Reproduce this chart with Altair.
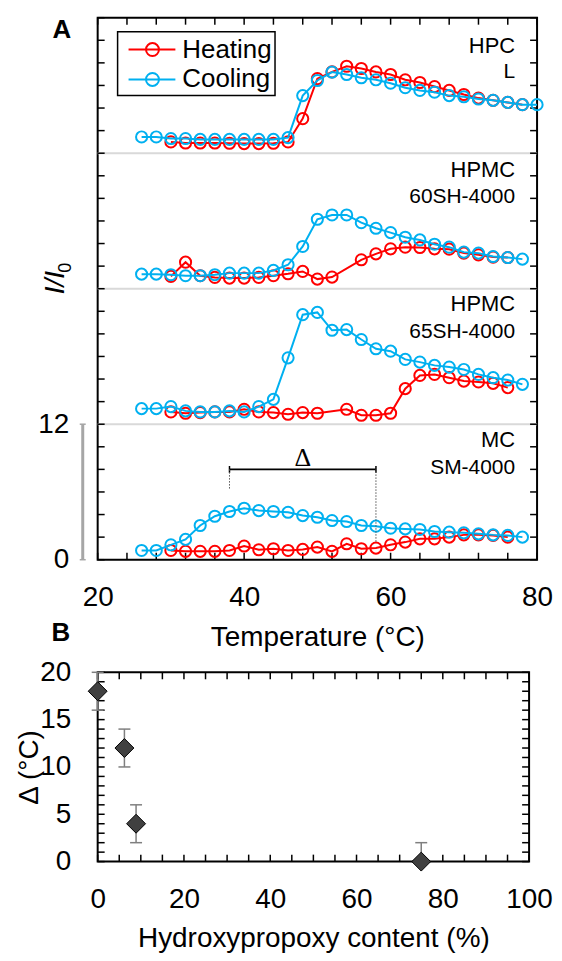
import altair as alt
import pandas as pd

FONT = "Liberation Sans"
RED = "#ff0000"
BLUE = "#00b0f0"

# ---------------- Panel A data ----------------
samples = ["MC SM-4000", "HPMC 65SH-4000", "HPMC 60SH-4000", "HPC L"]
offsets = [0, 12, 24, 36]

cool_T_long = [26, 28, 30, 32, 34, 36, 38, 40, 42, 44, 46, 48, 50, 52, 54, 56, 58, 60, 62, 64, 66, 68, 70, 72, 74, 76, 78, 80]
cool_T = [26, 28, 30, 32, 34, 36, 38, 40, 42, 44, 46, 48, 50, 52, 54, 56, 58, 60, 62, 64, 66, 68, 70, 72, 74, 76, 78]

hpc_cool = [1.44, 1.44, 1.3, 1.3, 1.22, 1.22, 1.22, 1.22, 1.22, 1.22, 1.38, 5.1, 6.44, 7.18, 6.97, 6.68, 6.5, 6.2, 5.8, 5.56, 5.4, 5.1, 5.0, 4.8, 4.68, 4.5, 4.3, 4.3]
hpc_heat_T = [30, 32, 34, 36, 38, 40, 42, 44, 46, 48, 50, 52, 54, 56, 58, 60, 62, 64, 66, 68, 70, 72, 74, 76, 78]
hpc_heat = [1.0, 0.9, 0.9, 0.9, 0.88, 0.85, 0.85, 0.88, 1.0, 3.06, 6.6, 7.2, 7.7, 7.5, 7.2, 6.97, 6.5, 6.26, 5.9, 5.56, 5.2, 4.88, 4.68, 4.5, 4.3]

h60_cool = [1.29, 1.29, 1.24, 1.15, 1.15, 1.24, 1.38, 1.38, 1.38, 1.62, 2.12, 3.74, 6.15, 6.53, 6.53, 5.85, 5.35, 4.97, 4.56, 4.32, 3.94, 3.68, 3.24, 3.15, 2.85, 2.76, 2.62]
h60_heat_T = [30, 32, 34, 36, 38, 40, 42, 44, 46, 48, 50, 52, 56, 58, 60, 62, 64, 66, 68, 70, 72, 74, 76]
h60_heat = [1.09, 2.35, 1.15, 1.0, 0.94, 0.94, 1.0, 1.15, 1.32, 1.53, 0.85, 1.03, 2.56, 3.09, 3.53, 3.68, 3.65, 3.53, 3.5, 3.15, 3.0, 2.8, 2.76]

h65_cool = [1.38, 1.38, 1.56, 1.18, 1.09, 1.09, 1.18, 1.09, 1.56, 2.2, 5.88, 9.7, 9.9, 8.32, 8.38, 7.5, 6.68, 6.47, 5.74, 5.5, 5.21, 5.06, 4.85, 4.41, 4.12, 3.91, 3.53]
h65_heat_T = [30, 32, 34, 36, 38, 40, 42, 44, 46, 48, 50, 54, 56, 58, 60, 62, 64, 66, 68, 70, 72, 74, 76]
h65_heat = [1.09, 0.97, 1.03, 1.09, 1.09, 1.32, 1.09, 1.03, 0.88, 1.03, 0.97, 1.32, 0.79, 0.79, 0.97, 3.15, 4.32, 4.41, 4.12, 3.82, 3.74, 3.62, 3.24]

mc_cool = [0.82, 0.82, 1.32, 1.8, 3.03, 3.85, 4.27, 4.56, 4.35, 4.27, 4.2, 3.91, 3.76, 3.47, 3.38, 3.03, 2.97, 2.79, 2.73, 2.68, 2.5, 2.44, 2.38, 2.29, 2.2, 2.15, 2.0]
mc_heat_T = [30, 32, 34, 36, 38, 40, 42, 44, 46, 48, 50, 52, 54, 56, 58, 60, 62, 64, 66, 68, 70, 72, 74, 76]
mc_heat = [0.82, 0.74, 0.74, 0.74, 0.82, 1.21, 0.88, 0.97, 0.82, 0.91, 1.12, 0.74, 1.41, 0.97, 1.03, 1.32, 1.56, 1.85, 1.85, 2.0, 2.2, 2.2, 2.15, 2.0]

series = [
    ("MC SM-4000", "Heating", mc_heat_T, mc_heat),
    ("MC SM-4000", "Cooling", cool_T, mc_cool),
    ("HPMC 65SH-4000", "Heating", h65_heat_T, h65_heat),
    ("HPMC 65SH-4000", "Cooling", cool_T, h65_cool),
    ("HPMC 60SH-4000", "Heating", h60_heat_T, h60_heat),
    ("HPMC 60SH-4000", "Cooling", cool_T, h60_cool),
    ("HPC L", "Heating", hpc_heat_T, hpc_heat),
    ("HPC L", "Cooling", cool_T_long, hpc_cool),
]
rows = []
for s, mode, ts, vs in series:
    off = offsets[samples.index(s)]
    for t, v in zip(ts, vs):
        rows.append({"sample": s, "mode": mode, "T": t, "v": v, "y": v + off})
dfA = pd.DataFrame(rows)

separators = [12, 24, 36]
a_xticks = [20, 24, 28, 32, 36, 40, 44, 48, 52, 56, 60, 64, 68, 72, 76, 80]
a_yticks = [0, 2, 4, 6, 8, 10, 12, 14, 16, 18, 20, 22, 24, 26, 28, 30, 32, 34, 36, 38, 40, 42, 44, 46, 48]

# ---------------- Panel B data ----------------
hp_content = [0, 6.2, 8.9, 75]
delta_vals = [18, 12, 4, 0]
delta_err = [2, 2, 2, 2]
dfB = pd.DataFrame({"hp": hp_content, "d": delta_vals, "e": delta_err})
b_xticks = [0, 5, 10, 15, 20, 25, 30, 35, 40, 45, 50, 55, 60, 65, 70, 75, 80, 85, 90, 95, 100]
b_yticks = list(range(0, 21))

WA, HA = 441, 544
WB, HB = 433, 190

xA = alt.Scale(domain=[20, 80], nice=False, zero=False)
yA = alt.Scale(domain=[0, 48], nice=False, zero=False)
axA_x = alt.Axis(values=[20, 40, 60, 80], ticks=False, tickSize=0, domain=False, grid=False,
                 labelFontSize=28, labelPadding=24, labelFlush=False, labelOverlap=False,
                 title="Temperature (°C)", titleFontSize=28, titleFontWeight="normal",
                 titleY=86, titleBaseline="alphabetic")
axA_y = alt.Axis(values=[0, 12], ticks=False, tickSize=0, domain=False, grid=False,
                 labelFontSize=28, labelPadding=29, labelFlush=False, labelOverlap=False,
                 title=None)

def XA(f):
    return alt.X(f, scale=xA, axis=axA_x)

def YA(f):
    return alt.Y(f, scale=yA, axis=axA_y)

sym_path = "M-0.5,0H2.857M1.678,0A0.464,0.464,0,1,1,0.75,0A0.464,0.464,0,1,1,1.678,0"
legendA = alt.Legend(title=None, orient="none", legendX=20, legendY=14, direction="vertical",
                     symbolType=sym_path, symbolSize=784, symbolStrokeWidth=2,
                     labelFontSize=26, labelFont=FONT, labelColor="black", labelOffset=32,
                     labelExpr="datum.label + '\u00a0\u00a0\u00a0'",
                     strokeColor="black", fillColor="white", padding=3, rowPadding=2)
colorA = alt.Color("mode:N", scale=alt.Scale(domain=["Heating", "Cooling"], range=[RED, BLUE]),
                   legend=legendA)

sepdf = pd.DataFrame({"y": separators})
sep = alt.Chart(sepdf).mark_rule(color="#d9d9d9", strokeWidth=2).encode(y=YA("y:Q"))

bar = alt.Chart(alt.Data(values=[{}])).mark_rule(color="#a6a6a6", strokeWidth=3).encode(
    x=alt.value(-15), y=alt.datum(0), y2=alt.datum(12))
barcaps = alt.Chart(pd.DataFrame({"y": [0, 12]})).mark_rule(color="#a6a6a6", strokeWidth=1.5).encode(
    x=alt.value(-18), x2=alt.value(-12), y=YA("y:Q"))

xt = pd.DataFrame({"t": a_xticks})
yt = pd.DataFrame({"t": a_yticks})
tk = dict(color="black", strokeWidth=1.5)
tick_b = alt.Chart(xt).mark_rule(**tk).encode(x=XA("t:Q"), y=alt.value(HA), y2=alt.value(HA - 7))
tick_t = alt.Chart(xt).mark_rule(**tk).encode(x=XA("t:Q"), y=alt.value(0), y2=alt.value(7))
tick_l = alt.Chart(yt).mark_rule(**tk).encode(y=YA("t:Q"), x=alt.value(0), x2=alt.value(7))
tick_r = alt.Chart(yt).mark_rule(**tk).encode(y=YA("t:Q"), x=alt.value(WA), x2=alt.value(WA - 7))

def line_layer(mode):
    return alt.Chart(dfA).transform_filter(alt.datum.mode == mode).mark_line(strokeWidth=2).encode(
        x=XA("T:Q"), y=YA("y:Q"), color=colorA, detail="sample:N")

def point_layer(mode):
    return alt.Chart(dfA).transform_filter(alt.datum.mode == mode).mark_point(
        shape="circle", filled=False, size=125, strokeWidth=2, opacity=1).encode(
        x=XA("T:Q"), y=YA("y:Q"), color=colorA)

# Delta annotation
d_lo, d_hi, d_y = 38, 58, 8
dbar = alt.Chart(alt.Data(values=[{}])).mark_rule(color="black", strokeWidth=2).encode(
    x=alt.datum(d_lo), x2=alt.datum(d_hi), y=alt.datum(d_y))
dcap1 = alt.Chart(alt.Data(values=[{}])).mark_rule(color="black", strokeWidth=1.5).encode(
    x=alt.datum(d_lo), y=alt.datum(d_y - 0.3), y2=alt.datum(d_y + 0.3))
dcap2 = alt.Chart(alt.Data(values=[{}])).mark_rule(color="black", strokeWidth=1.5).encode(
    x=alt.datum(d_hi), y=alt.datum(d_y - 0.3), y2=alt.datum(d_y + 0.3))
ddot1 = alt.Chart(alt.Data(values=[{}])).mark_rule(color="#555555", strokeWidth=1, strokeDash=[1.5, 1.5]).encode(
    x=alt.datum(d_lo), y=alt.datum(6.3), y2=alt.datum(d_y))
ddot2 = alt.Chart(alt.Data(values=[{}])).mark_rule(color="#555555", strokeWidth=1, strokeDash=[1.5, 1.5]).encode(
    x=alt.datum(d_hi), y=alt.datum(1.6), y2=alt.datum(d_y))
dtext = alt.Chart(alt.Data(values=[{}])).mark_text(text="Δ", font="Liberation Serif", fontSize=26,
                                                    align="center", baseline="middle", color="black").encode(
    x=alt.datum((d_lo + d_hi) / 2), y=alt.datum(9.0))

def txt(s, tx, ty, size):
    return alt.Chart(alt.Data(values=[{}])).mark_text(text=s, font=FONT, fontSize=size, align="right",
                                                       baseline="middle", color="black").encode(
        x=alt.datum(tx), y=alt.datum(ty))

labels = [
    txt("HPC", 77.0, 45.5, 22), txt("L", 77.0, 43.15, 21),
    txt("HPMC", 77.0, 34.5, 22), txt("60SH-4000", 77.0, 32.1, 21),
    txt("HPMC", 77.0, 22.6, 22), txt("65SH-4000", 77.0, 20.2, 21),
    txt("MC", 77.0, 10.6, 22), txt("SM-4000", 77.0, 8.1, 21),
]

def ptxt(s, px, py, size, weight="normal", style="normal", angle=0, baseline="middle", font=FONT):
    return alt.Chart(alt.Data(values=[{}])).mark_text(
        text=s, font=font, fontSize=size, fontWeight=weight, fontStyle=style, angle=angle,
        align="center", baseline=baseline, color="black").encode(x=alt.value(px), y=alt.value(py))

panel_letters = [
    ptxt("A", -36, 12, 26, weight="bold"),
    ptxt("B", -37, 618, 26, weight="bold"),
    ptxt("I/I", -34, 266, 28, style="italic", angle=270, baseline="alphabetic"),
    ptxt("0", -27, 251, 18, angle=270, baseline="alphabetic"),
]

A = alt.layer(
    sep, bar, barcaps, tick_b, tick_t, tick_l, tick_r,
    line_layer("Heating"), point_layer("Heating"),
    line_layer("Cooling"), point_layer("Cooling"),
    dbar, dcap1, dcap2, ddot1, ddot2, dtext,
    *labels, *panel_letters,
).properties(width=WA, height=HA)

# ---------------- Panel B ----------------
xB = alt.Scale(domain=[0, 100], nice=False, zero=False)
yB = alt.Scale(domain=[0, 20], nice=False, zero=False)
axB_x = alt.Axis(values=[0, 20, 40, 60, 80, 100], ticks=False, tickSize=0, domain=False, grid=False,
                 labelFontSize=28, labelPadding=24, labelFlush=False, labelOverlap=False,
                 title="Hydroxypropoxy content (%)", titleFontSize=28, titleFontWeight="normal",
                 titleY=85, titleBaseline="alphabetic")
axB_y = alt.Axis(values=[0, 5, 10, 15, 20], ticks=False, tickSize=0, domain=False, grid=False,
                 labelFontSize=28, labelPadding=27, labelFlush=False, labelOverlap=False,
                 title="Δ (°C)", titleFontSize=28, titleFontWeight="normal",
                 titleX=-60, titleY=HB / 2, titleAngle=270, titleAlign="center", titleBaseline="alphabetic")

def XB(f):
    return alt.X(f, scale=xB, axis=axB_x)

def YB(f):
    return alt.Y(f, scale=yB, axis=axB_y)

baseB = alt.Chart(dfB).transform_calculate(
    lo="max(datum.d - datum.e, 0)", hi="min(datum.d + datum.e, 20)")
err = baseB.mark_rule(color="#7f7f7f", strokeWidth=1.5).encode(x=XB("hp:Q"), y=YB("lo:Q"), y2="hi:Q")
cap_lo = baseB.mark_tick(orient="horizontal", color="#7f7f7f", size=12, thickness=1.5, opacity=1).encode(
    x=XB("hp:Q"), y=YB("lo:Q"))
cap_hi = baseB.mark_tick(orient="horizontal", color="#7f7f7f", size=12, thickness=1.5, opacity=1).encode(
    x=XB("hp:Q"), y=YB("hi:Q"))
dia = alt.Chart(dfB).mark_point(shape="diamond", filled=True, fill="#404040", stroke="black",
                                strokeWidth=1, size=361, opacity=1).encode(x=XB("hp:Q"), y=YB("d:Q"))

bxt = pd.DataFrame({"t": b_xticks})
byt = pd.DataFrame({"t": b_yticks})
btick_b = alt.Chart(bxt).mark_rule(**tk).encode(x=XB("t:Q"), y=alt.value(HB), y2=alt.value(HB - 7))
btick_t = alt.Chart(bxt).mark_rule(**tk).encode(x=XB("t:Q"), y=alt.value(0), y2=alt.value(7))
btick_l = alt.Chart(byt).mark_rule(**tk).encode(y=YB("t:Q"), x=alt.value(0), x2=alt.value(7))
btick_r = alt.Chart(byt).mark_rule(**tk).encode(y=YB("t:Q"), x=alt.value(WB), x2=alt.value(WB - 7))

B = alt.layer(btick_b, btick_t, btick_l, btick_r, err, cap_lo, cap_hi, dia).properties(width=WB, height=HB)

chart = alt.vconcat(A, B, spacing=113, bounds="flush").properties(
    padding={"left": 7, "top": 6, "right": 0, "bottom": 0}
).configure_view(stroke="black", strokeWidth=2).configure_axis(
    labelFont=FONT, titleFont=FONT, labelColor="black", titleColor="black"
).configure_legend(strokeWidth=1.5)

chart.save("out.html", embed_options={"renderer": "svg", "actions": False})
